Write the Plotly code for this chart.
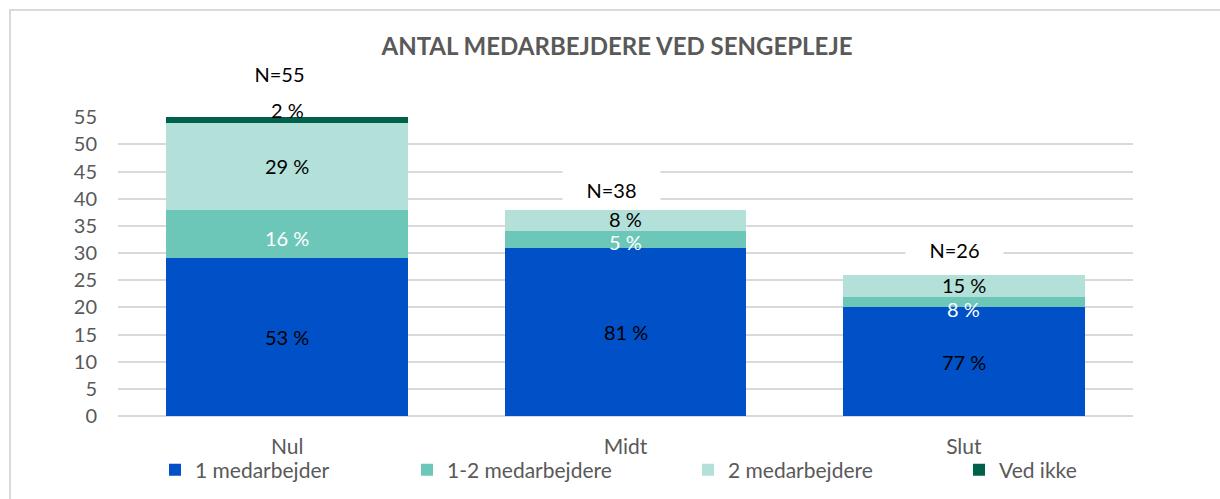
import plotly.graph_objects as go
import numpy as np

categories = ["Nul", "Midt", "Slut"]
series_names = ["1 medarbejder", "1-2 medarbejdere", "2 medarbejdere", "Ved ikke"]
v_one = [29, 31, 20]
v_onetwo = [9, 3, 2]
v_two = [16, 4, 4]
v_dontknow = [1, 0, 0]
lbl_one = ["53 %", "81 %", "77 %"]
lbl_onetwo = ["16 %", "5 %", "8 %"]
lbl_two = ["29 %", "8 %", "15 %"]
lbl_dontknow = ["2 %", "", ""]
n_labels = ["N=55", "N=38", "N=26"]
y_ticks = list(range(0, 60, 5))

colors = ["#0050C8", "#6DC7B9", "#B3E1DA", "#00614B"]
label_colors = ["#000000", "#FFFFFF", "#000000", "#000000"]
values = [v_one, v_onetwo, v_two, v_dontknow]
labels = [lbl_one, lbl_onetwo, lbl_two, lbl_dontknow]
# pixel nudges of the segment labels (style only)
label_yshift = [[0, 0, 0], [-4, -3, -7], [0, 1, 1], [-7, 0, 0]]

FONT = "Lato, 'Open Sans', sans-serif"
GRAY = "#595959"

L, R, T, B = 118, 87, 117, 83
W, H = 1220, 499
PW = W - L - R
PH = H - T - B

def px_x(px):
    return (px - L) / PW

def px_y(py):
    return (H - B - py) / PH

fig = go.Figure()
legend_ids = ["legend", "legend2", "legend3", "legend4"]
for i, (name, vals) in enumerate(zip(series_names, values)):
    fig.add_trace(go.Bar(
        x=categories, y=vals, name=name,
        marker=dict(color=colors[i], line=dict(width=0)),
        legend=legend_ids[i], showlegend=True,
    ))

# segment labels
cum = np.zeros(len(categories))
annotations = []
for i, vals in enumerate(values):
    v = np.array(vals, dtype=float)
    for j, c in enumerate(categories):
        if labels[i][j] == "":
            continue
        if i == 3:
            annotations.append(dict(x=c, y=cum[j] + v[j], text=labels[i][j], showarrow=False,
                                    yanchor="bottom", yshift=label_yshift[i][j],
                                    font=dict(family=FONT, size=20, color=label_colors[i])))
        else:
            annotations.append(dict(x=c, y=cum[j] + v[j] / 2, text=labels[i][j], showarrow=False,
                                    yshift=label_yshift[i][j],
                                    font=dict(family=FONT, size=20, color=label_colors[i])))
    cum = cum + v

totals = cum
n_yshift = [23, 0, 5]
n_xshift = [-8, -14, -9]
for j, c in enumerate(categories):
    annotations.append(dict(x=c, y=totals[j], text=n_labels[j], showarrow=False,
                            yanchor="bottom", yshift=n_yshift[j], xshift=n_xshift[j],
                            bgcolor="white", width=85, height=26, borderpad=6,
                            font=dict(family=FONT, size=20, color="#000000")))

fig.update_layout(
    width=W, height=H,
    margin=dict(l=L, r=R, t=T, b=B, autoexpand=False),
    paper_bgcolor="white", plot_bgcolor="white",
    barmode="stack", bargap=0.285,
    font=dict(family=FONT, size=20, color=GRAY),
    title=dict(text="<b>ANTAL MEDARBEJDERE VED SENGEPLEJE</b>",
               x=617 / W, xanchor="center", y=1 - 47 / H, yanchor="middle",
               font=dict(family=FONT, size=24, color=GRAY)),
    annotations=annotations,
    xaxis=dict(showgrid=False, showline=False, ticks="", ticklabelstandoff=16, automargin=False,
               tickfont=dict(family=FONT, size=21, color=GRAY)),
    yaxis=dict(range=[0, 55.05], tickvals=y_ticks, showgrid=True, gridcolor="#D9D9D9",
               gridwidth=1.5, zeroline=True, zerolinecolor="#D9D9D9", zerolinewidth=1.5,
               showline=False, ticks="", ticklabelstandoff=20, automargin=False,
               tickfont=dict(family=FONT, size=20, color=GRAY)),
    shapes=[dict(type="rect", xref="paper", yref="paper",
                 x0=px_x(10), x1=px_x(1240), y0=px_y(520), y1=px_y(10),
                 line=dict(color="#D9D9D9", width=2), fillcolor="rgba(0,0,0,0)", layer="below")],
)

legend_px = [155, 407, 688, 959]
for i, lid in enumerate(legend_ids):
    fig.update_layout({lid: dict(x=px_x(legend_px[i]), xanchor="left", y=px_y(470), yanchor="middle",
                                 orientation="h", bgcolor="rgba(0,0,0,0)",
                                 font=dict(family=FONT, size=21, color=GRAY),
                                 itemwidth=30)})

fig.write_html("out.html", config={"displayModeBar": False},
               post_script="document.body.style.margin='0';")
